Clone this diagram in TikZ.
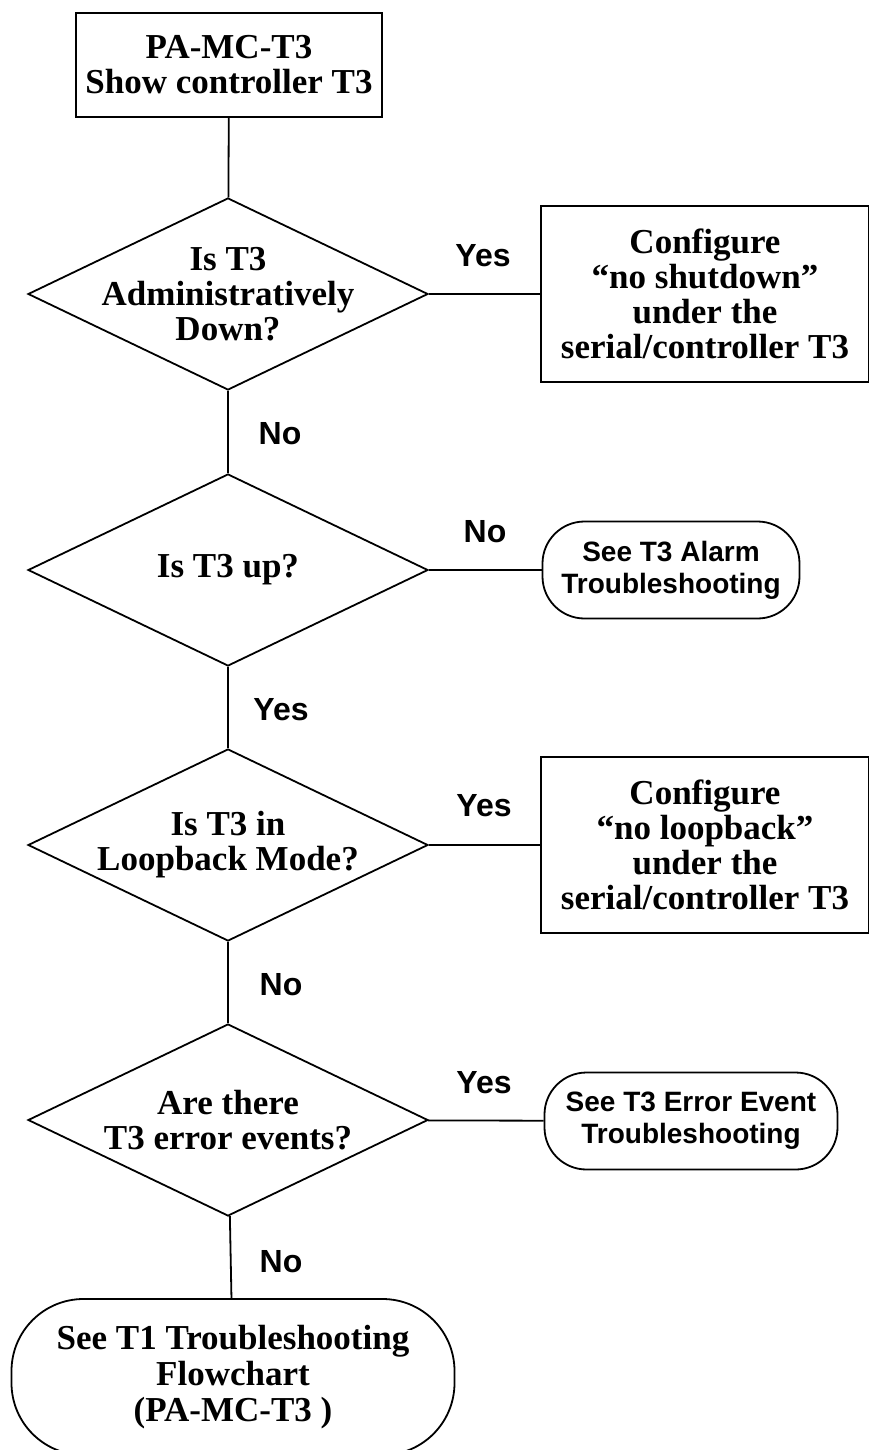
\documentclass[tikz,border=0pt]{standalone}
\usepackage{fontspec}
\setmainfont{Liberation Serif}
\setsansfont{Liberation Sans}
\usetikzlibrary{shapes.geometric}

\tikzset{
  flow/.style={line width=1.8pt},
  startbox/.style={draw, flow, minimum width=306pt, minimum height=104pt, inner sep=0pt,
    align=center, font=\bfseries\fontsize{35}{35}\selectfont},
  decision/.style={draw, flow, shape=diamond, minimum width=400pt, minimum height=192pt, inner sep=0pt},
  qtext/.style={align=center, font=\bfseries\fontsize{35}{35}\selectfont},
  fixbox/.style={draw, flow, minimum width=328pt, minimum height=176pt, inner sep=0pt,
    align=center, font=\bfseries\fontsize{35}{35}\selectfont},
  seebox/.style={draw, flow, rounded corners=42pt, minimum height=97pt, inner sep=0pt,
    align=center, font=\sffamily\bfseries\fontsize{28}{32}\selectfont},
  endbox/.style={draw, flow, rounded corners=72pt, minimum width=443pt, minimum height=156pt, inner sep=0pt,
    align=center, font=\bfseries\fontsize{35}{36}\selectfont},
  answer/.style={font=\sffamily\bfseries\fontsize{32}{34}\selectfont}
}

\begin{document}
\begin{tikzpicture}[x=1pt, y=-1pt]
% Page size of the reference
\useasboundingbox (0,0) rectangle (869,1450);

% Main column
\node[startbox] (start) at (229,65) {PA-MC-T3\\Show controller T3};
\node[decision, label={[qtext]center:{Is T3\\Administratively\\Down?}}] (admin) at (228,294) {};
\node[decision, label={[qtext]center:{Is T3 up?}}] (up) at (228,570) {};
\node[decision, label={[qtext]center:{Is T3 in\\Loopback Mode?}}] (loop) at (228,845) {};
\node[decision, label={[qtext]center:{Are there\\T3 error events?}}] (errors) at (228,1120) {};
\node[endbox] (t1chart) at (233,1377) {See T1 Troubleshooting\\Flowchart\\(PA-MC-T3 )};

% Right column
\node[fixbox] (noshut) at (705,294) {Configure\\“no shutdown”\\under the\\serial/controller T3};
\node[seebox, minimum width=257pt] (alarm) at (671,570) {See T3 Alarm\\Troubleshooting};
\node[fixbox] (noloop) at (705,845) {Configure\\“no loopback”\\under the\\serial/controller T3};
\node[seebox, minimum width=293pt] (errevent) at (691,1121) {See T3 Error Event\\Troubleshooting};

% Connectors
\draw[flow] (start) -- (admin);
\draw[flow] (admin) -- (up);
\draw[flow] (up) -- (loop);
\draw[flow] (loop) -- (errors);
\draw[flow] (errors) -- (t1chart);
\draw[flow] (admin) -- (noshut);
\draw[flow] (up) -- (alarm);
\draw[flow] (loop) -- (noloop);
\draw[flow] (errors) -- (errevent);

% Answers
\node[answer] (adminyes) at (483,256) {Yes};
\node[answer] (adminno) at (280,434) {No};
\node[answer] (upno) at (485,532) {No};
\node[answer] (upyes) at (281,710) {Yes};
\node[answer] (loopyes) at (484,806) {Yes};
\node[answer] (loopno) at (281,985) {No};
\node[answer] (erryes) at (484,1083) {Yes};
\node[answer] (errno) at (281,1262) {No};
\end{tikzpicture}
\end{document}
